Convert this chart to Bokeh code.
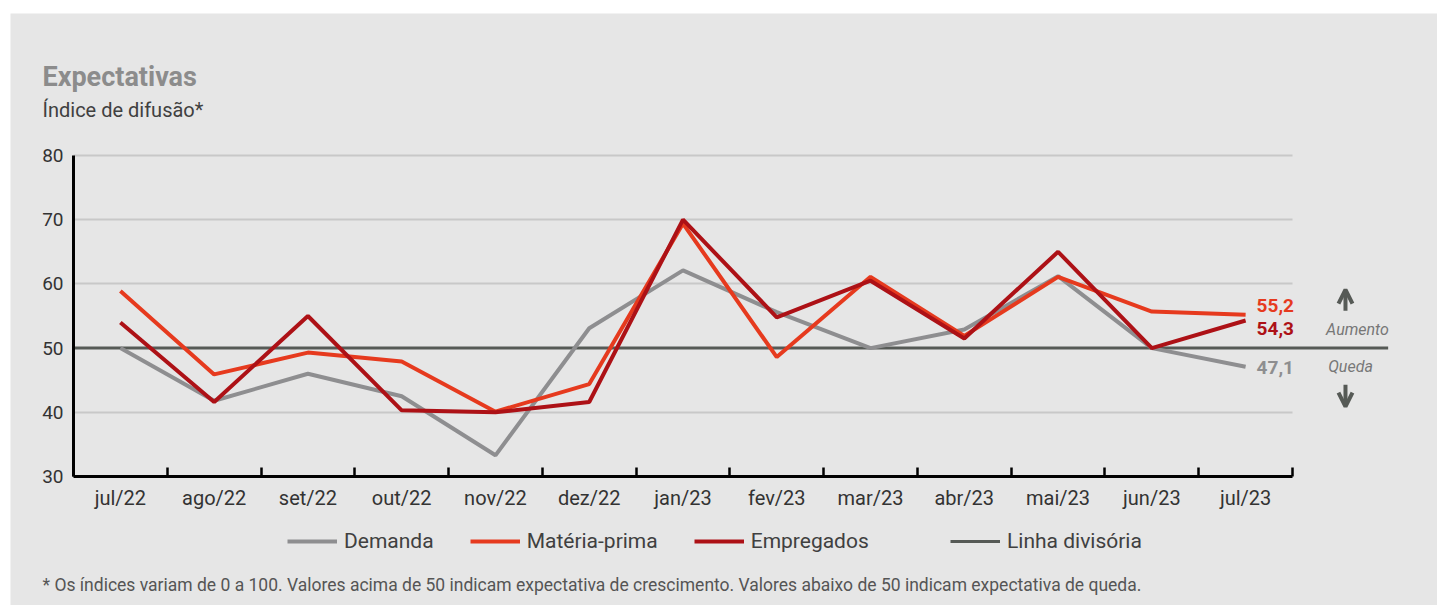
from bokeh.plotting import figure
from bokeh.models import (Range1d, FixedTicker, Label, Legend, LegendItem, Arrow,
                          OpenHead)
from bokeh.embed import file_html
from bokeh.resources import INLINE

months = ["jul/22", "ago/22", "set/22", "out/22", "nov/22", "dez/22", "jan/23",
          "fev/23", "mar/23", "abr/23", "mai/23", "jun/23", "jul/23"]
demanda = [50.0, 41.8, 46.0, 42.5, 33.3, 53.1, 62.1, 55.6, 50.0, 52.9, 61.2, 50.0, 47.1]
materia = [58.9, 45.9, 49.3, 47.9, 40.1, 44.4, 69.4, 48.6, 61.1, 51.9, 61.1, 55.7, 55.2]
empregados = [54.0, 41.6, 55.0, 40.3, 40.0, 41.6, 70.0, 54.8, 60.5, 51.5, 65.0, 50.0, 54.3]
divisoria = 50
y_ticks = [30, 40, 50, 60, 70, 80]
grid_ticks = [40, 60, 70, 80]

FONT = "Roboto"
BG = "#e6e6e6"
C_DEM = "#8e8e90"
C_MAT = "#e63a1e"
C_EMP = "#ad1116"
C_DIV = "#565a56"

n = len(months)
xs = [i + 0.5 for i in range(n)]
Y0, Y1 = y_ticks[0], y_ticks[-1]

# figure geometry (pixels): axes drawn at fixed locations inside a full-size frame
W, H = 1427, 592
AX_LEFT, AX_RIGHT = 63, 1282          # pixel columns of x = 0 and x = n
AX_TOP, AX_BOTTOM = 142, 463          # pixel rows of y = 80 and y = 30
xu = (AX_RIGHT - AX_LEFT) / n
yu = (AX_BOTTOM - AX_TOP) / (Y1 - Y0)
x_range = Range1d(-AX_LEFT / xu, (W - AX_LEFT) / xu)
y_range = Range1d(Y0 - (H - AX_BOTTOM) / yu, Y1 + AX_TOP / yu)

p = figure(width=W, height=H, x_range=x_range, y_range=y_range,
           output_backend="svg", toolbar_location=None, min_border=0,
           background_fill_color=BG, border_fill_color=BG, outline_line_color=None)
p.margin = (13, 0, 0, 10)

# axes
xa = p.xaxis[0]
xa.fixed_location = Y0
xa.bounds = (0, n)
xa.ticker = FixedTicker(ticks=xs, minor_ticks=list(range(n + 1)))
xa.major_label_overrides = {x: m for x, m in zip(xs, months)}
xa.major_tick_in = 0
xa.major_tick_out = 0
xa.minor_tick_in = 9
xa.minor_tick_out = 0
xa.minor_tick_line_color = "black"
xa.minor_tick_line_width = 2.5
xa.axis_line_color = "black"
xa.axis_line_width = 3
xa.major_label_standoff = 9
xa.major_label_text_font = FONT
xa.major_label_text_font_size = "20px"
xa.major_label_text_color = "#333333"

ya = p.yaxis[0]
ya.fixed_location = 0
ya.bounds = (Y0, Y1)
ya.ticker = FixedTicker(ticks=y_ticks)
ya.major_tick_in = 0
ya.major_tick_out = 0
ya.minor_tick_in = 0
ya.minor_tick_out = 0
ya.axis_line_color = "black"
ya.axis_line_width = 3
ya.major_label_standoff = 10
ya.major_label_text_font = FONT
ya.major_label_text_font_size = "19px"
ya.major_label_text_color = "#333333"

p.xgrid.grid_line_color = None
p.ygrid.ticker = FixedTicker(ticks=grid_ticks)
p.ygrid.cross_bounds = (0, n)
p.ygrid.grid_line_color = "#c8c8c8"
p.ygrid.grid_line_width = 2

# dividing line (extends past the last month)
r_div = p.line([0, n + 1.02], [divisoria, divisoria], line_color=C_DIV, line_width=3)

r_dem = p.line(xs, demanda, line_color=C_DEM, line_width=4)
r_mat = p.line(xs, materia, line_color=C_MAT, line_width=4)
r_emp = p.line(xs, empregados, line_color=C_EMP, line_width=4)

# end labels
def lab(vals, color, yoff):
    p.add_layout(Label(x=xs[-1], y=vals[-1], text=f"{vals[-1]:.1f}".replace(".", ","),
                       x_offset=11, y_offset=yoff,
                       text_font=FONT, text_font_size="19px", text_font_style="bold",
                       text_color=color, text_baseline="middle", text_align="left"))

lab(materia, C_MAT, 9)
lab(empregados, C_EMP, -8)
lab(demanda, C_DEM, -1)

# Aumento / Queda
p.add_layout(Label(x=n, y=divisoria, text="Aumento", x_offset=65, y_offset=19,
                   text_font=FONT, text_font_size="16px", text_font_style="italic",
                   text_color="#777777", text_align="center", text_baseline="middle"))
p.add_layout(Label(x=n, y=divisoria, text="Queda", x_offset=58, y_offset=-18,
                   text_font=FONT, text_font_size="16px", text_font_style="italic",
                   text_color="#777777", text_align="center", text_baseline="middle"))
p.add_layout(Arrow(end=OpenHead(size=14, line_width=4, line_color=C_DIV),
                   x_start=n + 0.565, y_start=55.8, x_end=n + 0.565, y_end=59.1,
                   line_color=C_DIV, line_width=4))
p.add_layout(Arrow(end=OpenHead(size=14, line_width=4, line_color=C_DIV),
                   x_start=n + 0.565, y_start=44.3, x_end=n + 0.565, y_end=40.9,
                   line_color=C_DIV, line_width=4))

# titles and footnote (screen units from the figure's bottom-left)
p.add_layout(Label(x=32, y=529, x_units="screen", y_units="screen", text="Expectativas",
                   text_font=FONT, text_font_size="27px", text_font_style="bold",
                   text_color="#8c8c8c", text_baseline="alphabetic"))
p.add_layout(Label(x=32, y=496, x_units="screen", y_units="screen",
                   text="Índice de difusão*", text_font=FONT, text_font_size="20px",
                   text_color="#404040", text_baseline="alphabetic"))
p.add_layout(Label(x=32, y=21, x_units="screen", y_units="screen",
                   text="* Os índices variam de 0 a 100. Valores acima de 50 indicam expectativa de crescimento. Valores abaixo de 50 indicam expectativa de queda.",
                   text_font=FONT, text_font_size="17.5px",
                   text_color="#555555", text_baseline="alphabetic"))

# legends
def make_legend(items, x):
    lg = Legend(items=items, orientation="horizontal", location=(x, 52),
                background_fill_alpha=0, border_line_color=None, padding=0, margin=0,
                spacing=36, glyph_width=50, glyph_height=20, label_standoff=7,
                label_text_font=FONT, label_text_font_size="21px",
                label_text_color="#404040")
    p.add_layout(lg, "center")

make_legend([LegendItem(label="Demanda", renderers=[r_dem]),
             LegendItem(label="Matéria-prima", renderers=[r_mat]),
             LegendItem(label="Empregados", renderers=[r_emp])], 277)
make_legend([LegendItem(label="Linha divisória", renderers=[r_div])], 940)

open("out.html", "w").write(file_html(p, INLINE))
